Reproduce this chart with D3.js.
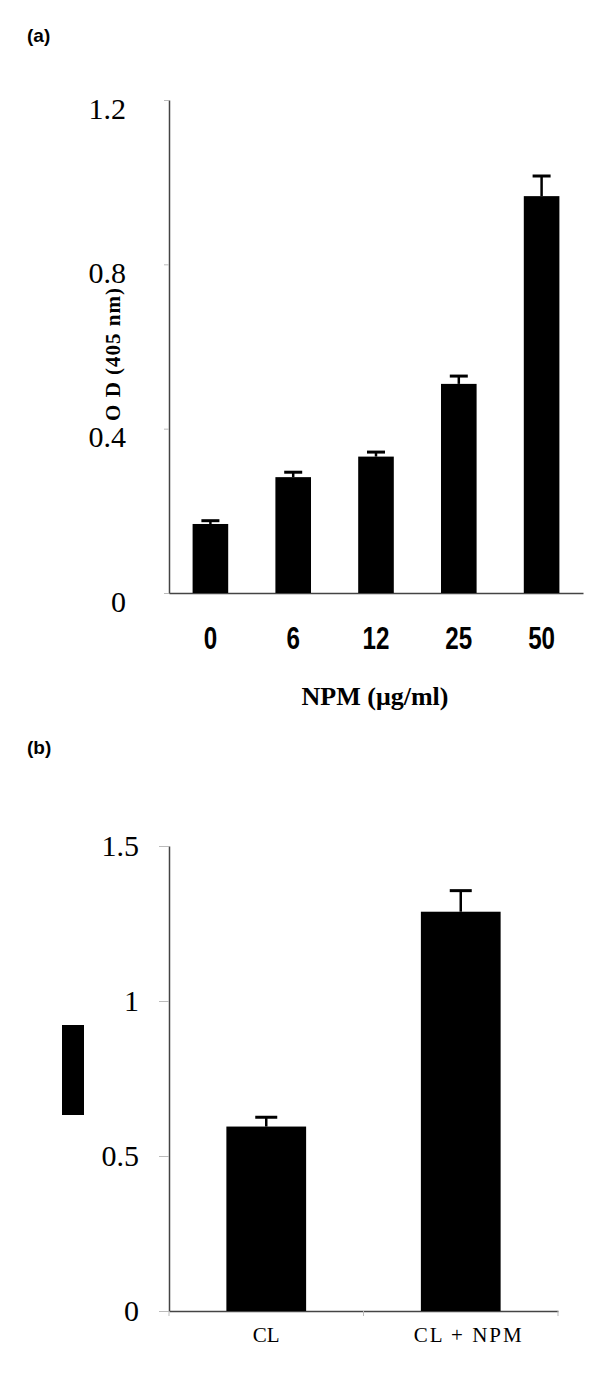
<!DOCTYPE html>
<html>
<head>
<meta charset="utf-8">
<script src="https://cdn.jsdelivr.net/npm/d3@7"></script>
<style>
  body { margin: 0; background: #fff; }
  svg { display: block; }
</style>
</head>
<body>
<div id="chart"></div>
<script>
// panel (a): OD vs NPM concentration
const concA = ["0", "6", "12", "25", "50"];
const odA = [0.168, 0.282, 0.332, 0.509, 0.966];
const errA = [0.008, 0.012, 0.011, 0.019, 0.049];
const ticksA = [0, 0.4, 0.8, 1.2];

// panel (b)
const groupsB = ["CL", "CL + NPM"];
const valB = [0.595, 1.288];
const errB = [0.03, 0.068];
const ticksB = [0, 0.5, 1, 1.5];

const width = 600, height = 1396;
const serif = "'Liberation Serif', 'Times New Roman', serif";
const sans = "'Liberation Sans', Arial, sans-serif";

const svg = d3.select("#chart").append("svg")
  .attr("width", width)
  .attr("height", height);

// panel labels
svg.append("text").attr("x", 27).attr("y", 42).text("(a)")
  .attr("font-family", sans).attr("font-weight", "bold").attr("font-size", 19);
svg.append("text").attr("x", 27).attr("y", 754).text("(b)")
  .attr("font-family", sans).attr("font-weight", "bold").attr("font-size", 19);

function styleAxis(g) {
  g.select(".domain").attr("stroke", "#444").attr("stroke-width", 1.5);
  g.selectAll(".tick line").attr("stroke", "#bbb");
}

// ---------- (a) ----------
const xA = d3.scaleBand().domain(concA).range([169, 583]).paddingInner(0.57).paddingOuter(0.285);
const yA = d3.scaleLinear().domain([0, 1.2]).range([593, 100]);

svg.append("g")
  .attr("transform", "translate(169,0)")
  .call(d3.axisLeft(yA).tickValues(ticksA).tickSizeInner(5).tickSizeOuter(0).tickPadding(38).tickFormat(d => d))
  .call(styleAxis)
  .call(g => g.selectAll(".tick text")
    .attr("font-family", serif).attr("font-size", 30).attr("fill", "#000").attr("dy", 18));

// condensed bold numbers under the bars
svg.append("g")
  .attr("transform", "translate(0,593)")
  .call(d3.axisBottom(xA).tickSize(0).tickPadding(34))
  .call(styleAxis)
  .call(g => g.selectAll(".tick text")
    .attr("font-family", sans).attr("font-weight", "bold").attr("font-size", 31)
    .attr("fill", "#000").attr("dy", 0).attr("y", 56)
    .attr("transform", "scale(0.78,1)"));

const barsA = svg.append("g").selectAll("g").data(concA).enter().append("g");
barsA.append("rect")
  .attr("x", d => xA(d))
  .attr("y", (d, i) => yA(odA[i]))
  .attr("width", xA.bandwidth())
  .attr("height", (d, i) => yA(0) - yA(odA[i]))
  .attr("fill", "#000");
barsA.append("line")
  .attr("x1", d => xA(d) + xA.bandwidth() / 2)
  .attr("x2", d => xA(d) + xA.bandwidth() / 2)
  .attr("y1", (d, i) => yA(odA[i]))
  .attr("y2", (d, i) => yA(odA[i] + errA[i]))
  .attr("stroke", "#000").attr("stroke-width", 2.5);
barsA.append("line")
  .attr("x1", d => xA(d) + xA.bandwidth() / 2 - 9)
  .attr("x2", d => xA(d) + xA.bandwidth() / 2 + 9)
  .attr("y1", (d, i) => yA(odA[i] + errA[i]))
  .attr("y2", (d, i) => yA(odA[i] + errA[i]))
  .attr("stroke", "#000").attr("stroke-width", 3);

svg.append("text")
  .attr("transform", "translate(120,354) rotate(-90)")
  .attr("text-anchor", "middle")
  .attr("font-family", serif).attr("font-weight", "bold").attr("font-size", 21)
  .attr("letter-spacing", 1)
  .text("O D (405 nm)");

svg.append("text")
  .attr("x", 375).attr("y", 705)
  .attr("text-anchor", "middle")
  .attr("font-family", serif).attr("font-weight", "bold").attr("font-size", 26)
  .text("NPM (μg/ml)");

// ---------- (b) ----------
const xB = d3.scaleBand().domain(groupsB).range([169, 558]).paddingInner(0.59).paddingOuter(0.295);
const yB = d3.scaleLinear().domain([0, 1.5]).range([1311, 846]);

svg.append("g")
  .attr("transform", "translate(169,0)")
  .call(d3.axisLeft(yB).tickValues(ticksB).tickSizeInner(10).tickSizeOuter(0).tickPadding(20).tickFormat(d => d))
  .call(styleAxis)
  .call(g => g.selectAll(".tick text")
    .attr("font-family", serif).attr("font-size", 30).attr("fill", "#000"));

svg.append("g")
  .attr("transform", "translate(0,1311)")
  .call(d3.axisBottom(xB).tickSize(0).tickPadding(16))
  .call(styleAxis)
  .call(g => g.selectAll(".tick text")
    .attr("font-family", serif).attr("font-size", 21).attr("fill", "#000")
    .attr("letter-spacing", (d, i) => i ? 2 : 0)
    .attr("dx", (d, i) => i ? 8 : 0));

// small tick marks at band boundaries
svg.append("g").selectAll("line")
  .data(groupsB.concat(["end"]))
  .enter().append("line")
  .attr("x1", d => d === "end" ? xB.range()[1] : xB(d) - xB.step() * xB.paddingOuter())
  .attr("x2", d => d === "end" ? xB.range()[1] : xB(d) - xB.step() * xB.paddingOuter())
  .attr("y1", 1311).attr("y2", 1316)
  .attr("stroke", "#bbb");

const barsB = svg.append("g").selectAll("g").data(groupsB).enter().append("g");
barsB.append("rect")
  .attr("x", d => xB(d))
  .attr("y", (d, i) => yB(valB[i]))
  .attr("width", xB.bandwidth())
  .attr("height", (d, i) => yB(0) - yB(valB[i]))
  .attr("fill", "#000");
barsB.append("line")
  .attr("x1", d => xB(d) + xB.bandwidth() / 2)
  .attr("x2", d => xB(d) + xB.bandwidth() / 2)
  .attr("y1", (d, i) => yB(valB[i]))
  .attr("y2", (d, i) => yB(valB[i] + errB[i]))
  .attr("stroke", "#000").attr("stroke-width", 2.5);
barsB.append("line")
  .attr("x1", d => xB(d) + xB.bandwidth() / 2 - 11)
  .attr("x2", d => xB(d) + xB.bandwidth() / 2 + 11)
  .attr("y1", (d, i) => yB(valB[i] + errB[i]))
  .attr("y2", (d, i) => yB(valB[i] + errB[i]))
  .attr("stroke", "#000").attr("stroke-width", 3);

// stray legend swatch left of axis
svg.append("rect")
  .attr("x", 62).attr("y", 1025)
  .attr("width", 22).attr("height", 90)
  .attr("fill", "#000");
</script>
</body>
</html>
